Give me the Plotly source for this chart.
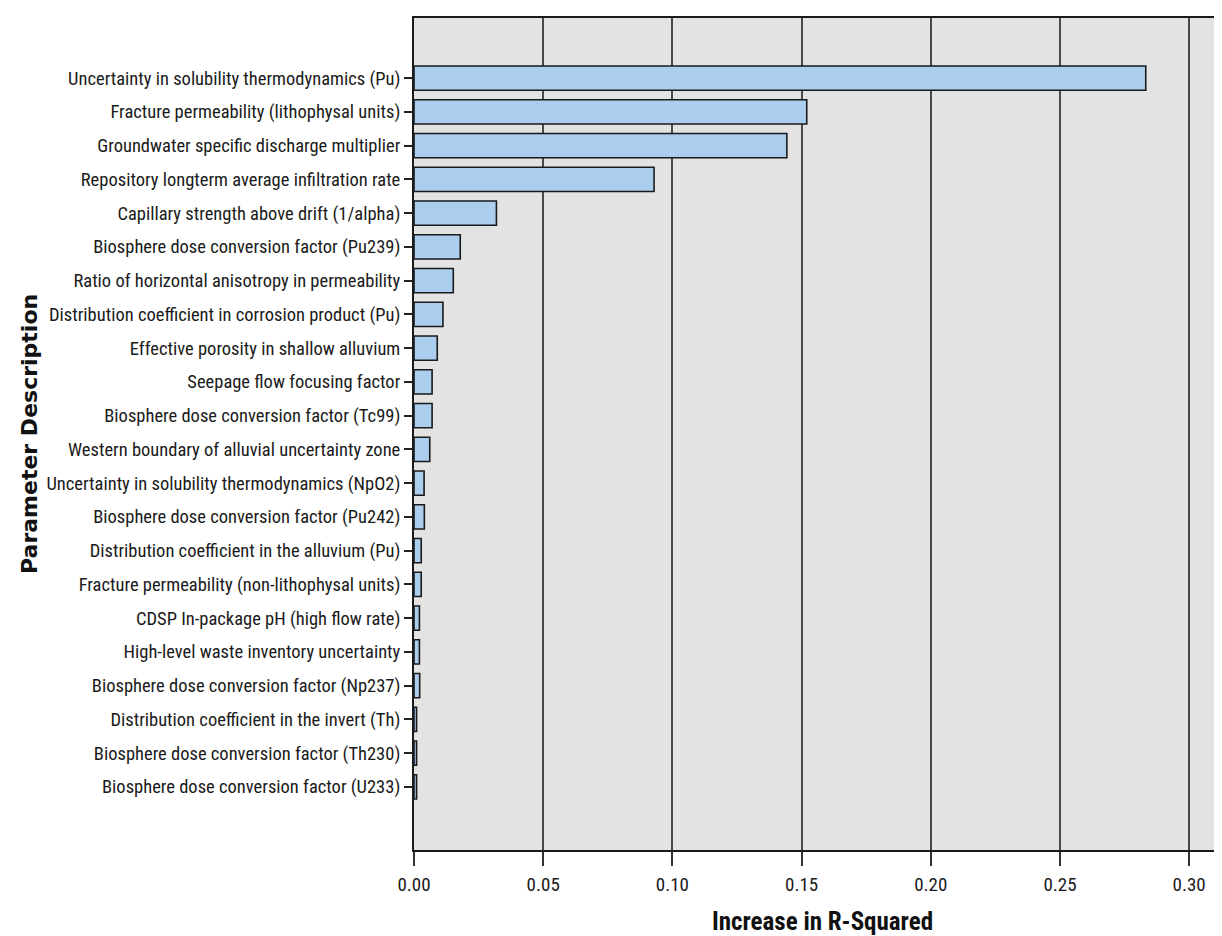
import plotly.graph_objects as go

parameters = [
    "Uncertainty in solubility thermodynamics (Pu)",
    "Fracture permeability (lithophysal units)",
    "Groundwater specific discharge multiplier",
    "Repository longterm average infiltration rate",
    "Capillary strength above drift (1/alpha)",
    "Biosphere dose conversion factor (Pu239)",
    "Ratio of horizontal anisotropy in permeability",
    "Distribution coefficient in corrosion product (Pu)",
    "Effective porosity in shallow alluvium",
    "Seepage flow focusing factor",
    "Biosphere dose conversion factor (Tc99)",
    "Western boundary of alluvial uncertainty zone",
    "Uncertainty in solubility thermodynamics (NpO2)",
    "Biosphere dose conversion factor (Pu242)",
    "Distribution coefficient in the alluvium (Pu)",
    "Fracture permeability (non-lithophysal units)",
    "CDSP In-package pH (high flow rate)",
    "High-level waste inventory uncertainty",
    "Biosphere dose conversion factor (Np237)",
    "Distribution coefficient in the invert (Th)",
    "Biosphere dose conversion factor (Th230)",
    "Biosphere dose conversion factor (U233)",
]
r2_increase = [
    0.2832, 0.1520, 0.1443, 0.0929, 0.0319, 0.0179, 0.0152, 0.0112,
    0.0090, 0.0070, 0.0070, 0.0061, 0.0039, 0.0040, 0.0028, 0.0028,
    0.0021, 0.0021, 0.0022, 0.0010, 0.0010, 0.0010,
]
x_ticks = [0.00, 0.05, 0.10, 0.15, 0.20, 0.25, 0.30]
x_tick_labels = ["0.00", "0.05", "0.10", "0.15", "0.20", "0.25", "0.30"]

fig = go.Figure(
    go.Bar(
        x=r2_increase,
        y=parameters,
        orientation="h",
        width=0.72,
        marker=dict(color="#abcdee", line=dict(color="#1a1a1a", width=1.6)),
        hoverinfo="x+y",
    )
)

narrow = "Roboto Condensed, Liberation Sans Narrow, Arial Narrow, sans-serif"

fig.update_layout(
    width=1222,
    height=936,
    margin=dict(l=406, r=0, t=10, b=94),
    paper_bgcolor="white",
    plot_bgcolor="#e3e3e3",
    showlegend=False,
    xaxis=dict(
        range=[0, 0.3158],
        tickvals=x_ticks,
        ticktext=x_tick_labels,
        showgrid=True,
        gridcolor="#4a4a4a",
        gridwidth=1.5,
        zeroline=False,
        showline=True,
        linecolor="#1a1a1a",
        linewidth=2,
        mirror=True,
        ticks="outside",
        ticklen=14,
        tickwidth=1.5,
        tickcolor="#333333",
        ticklabelstandoff=2,
        automargin=False,
        tickfont=dict(family=narrow, size=19, color="#1a1a1a"),
    ),
    yaxis=dict(
        type="category",
        categoryorder="array",
        categoryarray=parameters,
        range=[22.87, -1.78],
        showgrid=False,
        zeroline=False,
        showline=True,
        linecolor="#1a1a1a",
        linewidth=2,
        ticks="outside",
        ticklen=8,
        tickwidth=2,
        tickcolor="#222222",
        automargin=False,
        tickfont=dict(family=narrow, size=18.5, color="#1a1a1a"),
    ),
    annotations=[
        dict(
            text="<b>Parameter Description</b>",
            xref="paper", yref="paper",
            x=(21 - 406) / 816, y=0.5,
            xanchor="center", yanchor="middle",
            textangle=-90, showarrow=False,
            font=dict(family="DejaVu Sans", size=22, color="#111111"),
        ),
        dict(
            text="<b>Increase in R-Squared</b>",
            xref="paper", yref="paper",
            x=0.5, y=(842 - 913) / 832,
            xanchor="center", yanchor="middle",
            showarrow=False,
            font=dict(family=narrow, size=25, color="#111111"),
        ),
    ],
)

fig.write_html("out.html")
